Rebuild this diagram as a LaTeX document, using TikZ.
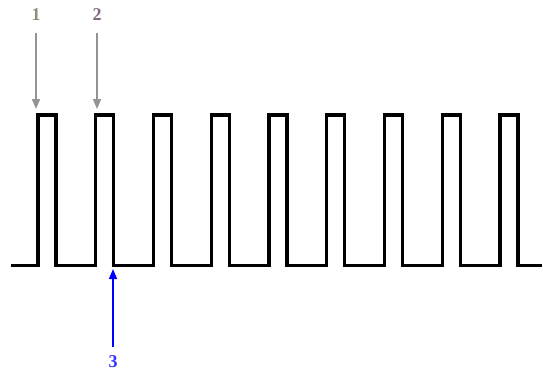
\documentclass[tikz,border=0pt]{standalone}
\usepackage{fontspec}
\setmainfont{Liberation Serif}
\usetikzlibrary{arrows.meta}
\begin{document}
\begin{tikzpicture}[x=1pt,y=-1pt,
  wave/.style={line width=3.2pt,line join=miter,black},
  grayarrow/.style={draw=gray!85,line width=1.6pt,-{Triangle[length=10pt,width=8pt]}},
  bluearrow/.style={draw=blue,line width=1.6pt,-{Triangle[length=10pt,width=8pt]}},
  lbl/.style={font=\bfseries\fontsize{18}{20}\selectfont,inner sep=0pt}]
\useasboundingbox (0,0) rectangle (543,375);
% waveform
\def\per{57.75}
\draw[wave] (11,265.5)
  \foreach \i in {0,...,8} {
    -- ({38+\i*\per},265.5) -- ({38+\i*\per},115) -- ({56+\i*\per},115) -- ({56+\i*\per},265.5)
  } -- (542,265.5);
% labels and arrows
\node[lbl,text=gray!85!olive] (l1) at (36,15) {1};
\node[lbl,text=gray!80!violet] (l2) at (97,15) {2};
\node[lbl,text=blue!80!white] (l3) at (113,362) {3};
\coordinate (t1) at (36,109);
\coordinate (t2) at (97,109);
\coordinate (t3) at (113,269);
\draw[grayarrow] (36,33) -- (t1);
\draw[grayarrow] (97,33) -- (t2);
\draw[bluearrow] (113,347) -- (t3);
\end{tikzpicture}
\end{document}
